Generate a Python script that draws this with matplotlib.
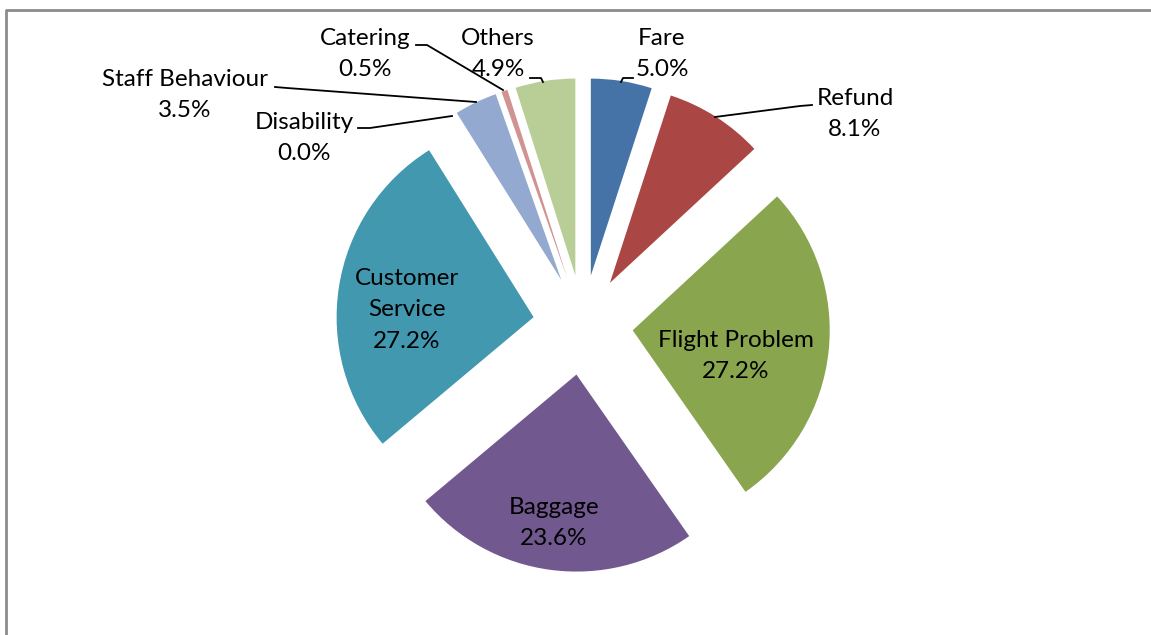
import matplotlib
matplotlib.use('Agg')
import matplotlib.pyplot as plt
import numpy as np

plt.rcParams['font.family'] = ['Lato', 'DejaVu Sans']

# data
categories = ['Fare', 'Refund', 'Flight Problem', 'Baggage', 'Customer Service',
              'Disability', 'Staff Behaviour', 'Catering', 'Others']
shares = [5.0, 8.1, 27.2, 23.6, 27.2, 0.0, 3.5, 0.5, 4.9]
label_names = ['Fare', 'Refund', 'Flight Problem', 'Baggage', 'Customer\nService',
               'Disability', 'Staff Behaviour', 'Catering', 'Others']
colors = ['#4572A7', '#AA4643', '#89A54E', '#71588F', '#4198AF',
          '#DB843D', '#93A9CF', '#D19392', '#B9CD96']

W, H = 1151, 635
fig = plt.figure(figsize=(W / 100, H / 100), dpi=100)
ax = fig.add_axes([0, 0, 1, 1])

cx, cy = 583, H - 325
r = 197
wedges, _ = ax.pie(shares, colors=colors, startangle=90, counterclock=False,
                   radius=r, center=(cx, cy), explode=[50] * len(shares),
                   wedgeprops=dict(linewidth=0))

ax.set_xlim(0, W)
ax.set_ylim(0, H)
ax.set_aspect('equal')
ax.axis('off')

# frame (only left and top visible)
ax.plot([6, 6, W + 5], [-5, H - 10, H - 10], color='#8c8c8c', lw=2, clip_on=False)


def lab(i):
    return f'{label_names[i]}\n{shares[i]:.1f}%'


# label centres in pixels, y measured from top
inside = {2: (736, 356), 3: (554, 523), 4: (407, 310)}
outside = {0: (662, 54), 1: (855, 114), 6: (185, 95), 7: (365, 54), 5: (304, 138), 8: (498, 54)}
for i, (x, y) in list(inside.items()) + list(outside.items()):
    ax.text(x, H - y, lab(i), ha='center', va='center', fontsize=17.5, linespacing=1.6)

# leader lines
leaders = {
    0: [(621, 82), (623, 78), (633, 78)],
    1: [(812, 105), (800, 106), (715, 117)],
    6: [(275, 87), (287, 88), (476, 102)],
    7: [(416, 45), (427, 45), (503, 90)],
    5: [(358, 128), (370, 128), (452, 116)],
    8: [(530, 78), (541, 78), (543, 82)],
}
for pts in leaders.values():
    xs = [p[0] for p in pts]
    ys = [H - p[1] for p in pts]
    ax.plot(xs, ys, color='black', lw=1.3)

fig.savefig('out.png', dpi=100)
